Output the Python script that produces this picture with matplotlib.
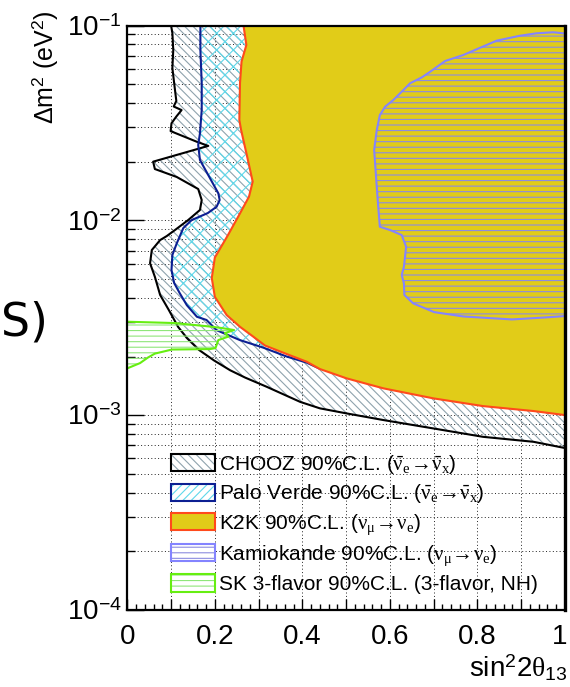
import numpy as np
import matplotlib
matplotlib.use('Agg')
import matplotlib.pyplot as plt
from matplotlib.patches import Patch
from matplotlib.legend_handler import HandlerTuple
from matplotlib.ticker import LogLocator, NullFormatter, MultipleLocator, FuncFormatter
from matplotlib.transforms import ScaledTranslation

plt.rcParams['font.family'] = ['Liberation Sans', 'DejaVu Sans']
plt.rcParams['mathtext.fontset'] = 'custom'
plt.rcParams['mathtext.rm'] = 'Liberation Sans'
plt.rcParams['mathtext.it'] = 'Liberation Serif'
plt.rcParams['mathtext.bf'] = 'Liberation Sans:bold'
plt.rcParams['hatch.linewidth'] = 0.8

# ---------------- data (sin^2 2theta13, delta m^2 [eV^2]) ----------------
chooz_s2 = [0.100, 0.103, 0.105, 0.103, 0.107, 0.112, 0.106, 0.124, 0.112, 0.101,
            0.099, 0.159, 0.185, 0.059, 0.063, 0.113, 0.162, 0.170, 0.166, 0.139,
            0.109, 0.090, 0.075, 0.056, 0.052, 0.063, 0.075, 0.095, 0.116, 0.136,
            0.164, 0.198, 0.235, 0.269, 0.318, 0.395, 0.440, 0.501, 0.585, 0.699,
            0.813, 0.928, 1.000]
chooz_dm2 = [0.1, 0.0915, 0.0748, 0.0605, 0.0507, 0.0410, 0.0384, 0.0368, 0.0341, 0.0315,
             0.0287, 0.0253, 0.0241, 0.0200, 0.01834, 0.01669, 0.01448, 0.01271, 0.01130, 0.01003,
             0.00892, 0.00830, 0.00792, 0.00704, 0.00602, 0.00513, 0.00414, 0.00346, 0.00284, 0.00249,
             0.00216, 0.00191, 0.00170, 0.00156, 0.00140, 0.00117, 0.001084, 0.001021, 0.000944, 0.000855,
             0.000774, 0.000730, 0.000678]

pv_s2 = [0.167, 0.167, 0.170, 0.170, 0.166, 0.162, 0.166, 0.183, 0.208, 0.211,
         0.204, 0.184, 0.147, 0.128, 0.113, 0.103, 0.101, 0.107, 0.120, 0.136,
         0.159, 0.181, 0.204, 0.257, 0.311, 0.364, 0.410, 0.440, 0.60, 1.0]
pv_dm2 = [0.1, 0.0748, 0.0507, 0.0368, 0.02797, 0.02435, 0.02039, 0.01739, 0.01376, 0.01271,
          0.01174, 0.01090, 0.01003, 0.00913, 0.00762, 0.00664, 0.00556, 0.00477, 0.00422, 0.00367,
          0.00320, 0.00308, 0.00273, 0.00243, 0.00222, 0.00200, 0.00186, 0.00173, 0.003, 0.003]

k2k_s2 = [0.2655, 0.272, 0.261, 0.2575, 0.256, 0.260, 0.273, 0.2865, 0.278, 0.2575,
          0.230, 0.200, 0.193, 0.200, 0.227, 0.2575, 0.288, 0.3146, 0.364, 0.410,
          0.440, 0.501, 0.585, 0.699, 0.813, 0.928, 1.000]
k2k_dm2 = [0.1, 0.0794, 0.0653, 0.0507, 0.0327, 0.0291, 0.02164, 0.01579, 0.01322, 0.01086,
           0.0084, 0.00644, 0.00506, 0.00405, 0.003265, 0.00284, 0.002527, 0.002277, 0.00206, 0.00188,
           0.001725, 0.001545, 0.001373, 0.00122, 0.001113, 0.00105, 0.001001]

kam_s2 = [1.000, 0.973, 0.935, 0.897, 0.844, 0.798, 0.768, 0.726, 0.692, 0.673,
          0.646, 0.631, 0.608, 0.589, 0.577, 0.570, 0.564, 0.568, 0.573, 0.577,
          0.600, 0.627, 0.637, 0.632, 0.627, 0.632, 0.633, 0.653, 0.701, 0.768,
          0.879, 0.958, 1.000]
kam_dm2 = [0.0910, 0.0923, 0.0912, 0.0886, 0.0836, 0.0755, 0.0706, 0.0657, 0.0579, 0.0542,
           0.0505, 0.0467, 0.0415, 0.0383, 0.0347, 0.0291, 0.02296, 0.01708, 0.01198, 0.00927,
           0.00892, 0.0084, 0.00732, 0.00578, 0.00524, 0.00475, 0.00414, 0.00375, 0.00338, 0.00321,
           0.0031, 0.003177, 0.003226]

sk_s2 = [0.0, 0.109, 0.189, 0.216, 0.244, 0.223, 0.231, 0.208, 0.2015, 0.189,
         0.102, 0.063, 0.047, 0.029, 0.0]
sk_dm2 = [0.003017, 0.00297, 0.00285, 0.0028, 0.002734, 0.002638, 0.00253, 0.00243, 0.00221, 0.002184,
          0.002172, 0.00207, 0.001975, 0.00185, 0.001739]

labels = [r'CHOOZ 90%C.L. $(\bar{\nu}_{e}\!\rightarrow\!\bar{\nu}_{x})$',
          r'Palo Verde 90%C.L. $(\bar{\nu}_{e}\!\rightarrow\!\bar{\nu}_{x})$',
          r'K2K 90%C.L. $(\nu_{\mu}\!\rightarrow\!\nu_{e})$',
          r'Kamiokande 90%C.L. $(\nu_{\mu}\!\rightarrow\!\nu_{e})$',
          r'SK 3-flavor 90%C.L. (3-flavor, NH)']

# ---------------- colours ----------------
c_chooz_line = 'black'
c_chooz_hatch = '#8fa3ad'
c_pv_line = '#0c1f92'
c_pv_hatch = '#5fd8ea'
c_k2k_fill = '#e1cc18'
c_k2k_line = '#ff4a1c'
c_kam_line = '#8484ff'
c_kam_hatch = '#8c8ce0'
c_sk_line = '#66ee11'
c_sk_hatch = '#8fe67a'

fig = plt.figure(figsize=(5.7, 6.87), dpi=100)
ax = fig.add_axes([127.3/570, 1-610/687, (565-127.3)/570, (610-25.5)/687])
ax.set_yscale('log')
ax.set_xlim(0, 1)
ax.set_ylim(1e-4, 1e-1)

# CHOOZ
ax.fill(chooz_s2 + [1.0], chooz_dm2 + [0.1], facecolor='none', edgecolor=c_chooz_hatch,
        hatch='\\\\\\\\', linewidth=0, zorder=1)
# Palo Verde
ax.fill(pv_s2 + [1.0], pv_dm2 + [0.1], facecolor='none', edgecolor=c_pv_hatch,
        hatch='xx', linewidth=0, zorder=1.1)
ax.plot(chooz_s2, chooz_dm2, color=c_chooz_line, lw=1.5, zorder=2)
ax.plot(pv_s2[:28], pv_dm2[:28], color=c_pv_line, lw=1.5, zorder=2.1)
# K2K
ax.fill(k2k_s2 + [1.0], k2k_dm2 + [0.1], facecolor=c_k2k_fill, edgecolor='none', zorder=3)
ax.plot(k2k_s2, k2k_dm2, color=c_k2k_line, lw=1.5, zorder=3.1)
# Kamiokande
ax.fill(kam_s2, kam_dm2, facecolor='none', edgecolor=c_kam_hatch, hatch='---', linewidth=0, zorder=4)
ax.plot(kam_s2, kam_dm2, color=c_kam_line, lw=1.5, zorder=4.1)
# SK
ax.fill(sk_s2, sk_dm2, facecolor='none', edgecolor=c_sk_hatch, hatch='---', linewidth=0, zorder=5)
ax.plot(sk_s2, sk_dm2, color=c_sk_line, lw=1.5, zorder=5.1)

# ---------------- axes styling ----------------
ax.set_axisbelow(True)
ax.xaxis.set_major_locator(MultipleLocator(0.1))
ax.xaxis.set_minor_locator(MultipleLocator(0.02))
def xfmt(v, _):
    if abs(v / 0.2 - round(v / 0.2)) < 1e-6:
        return '%g' % round(v, 1)
    return ''
ax.xaxis.set_major_formatter(FuncFormatter(xfmt))
ax.yaxis.set_major_locator(LogLocator(base=10, numticks=10))
ax.yaxis.set_minor_locator(LogLocator(base=10, subs=np.arange(2, 10), numticks=20))
ax.yaxis.set_minor_formatter(NullFormatter())
ax.yaxis.set_major_formatter(FuncFormatter(lambda v, _: r'$10^{%d}$' % int(round(np.log10(v)))))

ax.tick_params(axis='both', which='both', direction='in', top=False, right=False, labelsize=20, width=1)
ax.tick_params(axis='x', which='major', length=8, pad=10)
ax.tick_params(axis='x', which='minor', length=4)
ax.tick_params(axis='y', which='major', length=12, pad=4)
ax.tick_params(axis='y', which='minor', length=6)

ax.grid(True, which='major', axis='x', color='#222222', linestyle=(0, (1, 2.5)), linewidth=0.7)
ax.grid(True, which='both', axis='y', color='#222222', linestyle=(0, (1, 2.5)), linewidth=0.7)

for s in ax.spines.values():
    s.set_linewidth(1.6)
    s.set_zorder(10)
ax.spines['right'].set_linewidth(2.4)

# ---------------- legend ----------------
handles = [
    (Patch(facecolor='white', edgecolor=c_chooz_hatch, hatch='\\\\\\\\', lw=0),
     Patch(facecolor='none', edgecolor=c_chooz_line, lw=1.5)),
    (Patch(facecolor='white', edgecolor=c_pv_hatch, hatch='////', lw=0),
     Patch(facecolor='none', edgecolor=c_pv_line, lw=1.5)),
    Patch(facecolor=c_k2k_fill, edgecolor=c_k2k_line, lw=1.5),
    (Patch(facecolor='white', edgecolor=c_kam_hatch, hatch='---', lw=0),
     Patch(facecolor='none', edgecolor=c_kam_line, lw=1.5)),
    (Patch(facecolor='white', edgecolor=c_sk_hatch, hatch='---', lw=0),
     Patch(facecolor='none', edgecolor=c_sk_line, lw=1.5)),
]
leg = ax.legend(handles, labels, loc='lower left', bbox_to_anchor=(0.1, 0.027),
                frameon=False, fontsize=15, borderpad=0, borderaxespad=0,
                handlelength=2.1, handleheight=0.9, handletextpad=0.2, labelspacing=0.32,
                handler_map={tuple: HandlerTuple(ndivide=1, pad=0)})
leg.set_zorder(20)

# ---------------- labels ----------------
fig.text(0.079, 0.985, r'$\Delta$m$^{2}$ (eV$^{2}$)', rotation=90, ha='center', va='top', fontsize=18)
fig.text(0.9965, 0.014, r'sin$^{2}$2$\theta_{13}$', ha='right', va='baseline', fontsize=20)
fig.text(0.002, 1 - 336/687, 'S)', ha='left', va='baseline', fontsize=33, family='DejaVu Sans')

fig.canvas.draw()
for t in ax.get_xticklabels():
    if t.get_text() == '1':
        t.set_transform(t.get_transform() + ScaledTranslation(-4/72, 0, fig.dpi_scale_trans))

fig.savefig('out.png', dpi=100)
